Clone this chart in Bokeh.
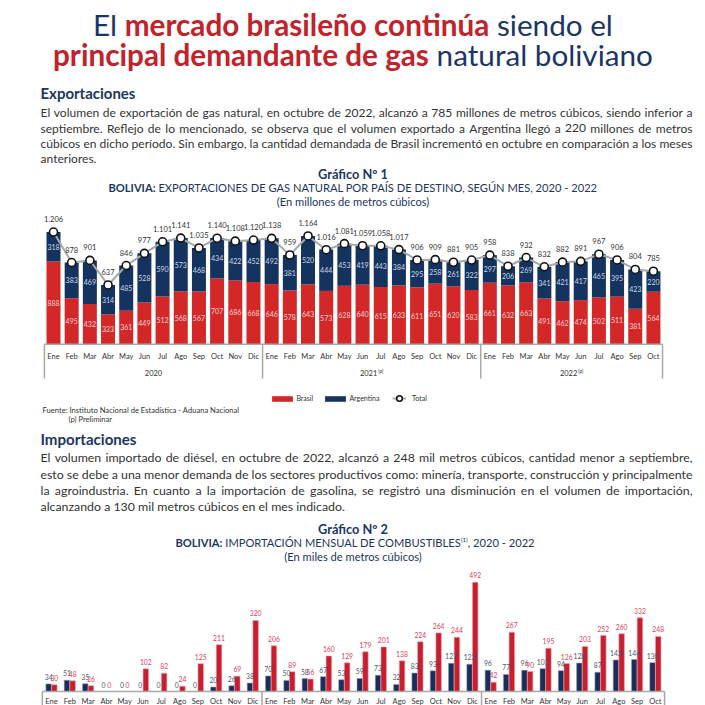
import glob, os
from bokeh.plotting import figure
from bokeh.models import Range1d, ColumnDataSource, Legend, LegendItem
from bokeh.layouts import column
from bokeh.transform import dodge
from bokeh.embed import file_html
from bokeh.resources import INLINE
from bokeh.core.properties import value

# ------------------------------------------------------------------ data
months_full = ["Ene", "Feb", "Mar", "Abr", "May", "Jun", "Jul", "Ago", "Sep", "Oct", "Nov", "Dic"]
months_2022 = ["Ene", "Feb", "Mar", "Abr", "May", "Jun", "Jul", "Ago", "Sep", "Oct"]
month_labels = months_full + months_full + months_2022
years = ["2020", "2021", "2022"]
year_marks = ["", "(p)", "(p)"]
year_counts = [12, 12, 10]

exp_brasil = [888, 495, 432, 323, 361, 449, 512, 568, 567, 707, 686, 668,
              646, 578, 643, 573, 628, 640, 615, 633, 611, 651, 620, 583,
              661, 632, 663, 491, 462, 474, 502, 511, 381, 564]
exp_argentina = [318, 383, 469, 314, 485, 528, 590, 573, 468, 434, 422, 452,
                 492, 381, 520, 444, 453, 419, 443, 384, 295, 258, 261, 322,
                 297, 206, 269, 341, 421, 417, 465, 395, 423, 220]
exp_total = [1206, 878, 901, 637, 846, 977, 1101, 1141, 1035, 1140, 1108, 1120,
             1138, 959, 1164, 1016, 1081, 1059, 1058, 1017, 906, 909, 881, 905,
             958, 838, 932, 832, 882, 891, 967, 906, 804, 785]

imp_gasolina = [34, 51, 35, 0, 0, 0, 0, 0, 0, 20, 26, 38,
                70, 50, 58, 67, 53, 59, 73, 32, 83, 93, 127, 123,
                96, 77, 96, 103, 94, 128, 87, 142, 144, 130]
imp_diesel = [30, 48, 26, 0, 0, 102, 82, 24, 125, 211, 69, 320,
              206, 89, 56, 160, 129, 179, 201, 138, 224, 264, 244, 492,
              42, 267, 90, 195, 126, 203, 252, 260, 332, 248]

title_l1 = [("El", "reg", "navy"), ("mercado brasileño continúa", "bold", "red"), ("siendo el", "reg", "navy")]
title_l2 = [("principal demandante de gas", "bold", "red"), ("natural boliviano", "reg", "navy")]
para1 = ["El volumen de exportación de gas natural, en octubre de 2022, alcanzó a 785 millones de metros cúbicos, siendo inferior a",
         "septiembre. Reflejo de lo mencionado, se observa que el volumen exportado a Argentina llegó a 220 millones de metros",
         "cúbicos en dicho período. Sin embargo, la cantidad demandada de Brasil incrementó en octubre en comparación a los meses",
         "anteriores."]
para2 = ["El volumen importado de diésel, en octubre de 2022, alcanzó a 248 mil metros cúbicos, cantidad menor a septiembre,",
         "esto se debe a una menor demanda de los sectores productivos como: minería, transporte, construcción y principalmente",
         "la agroindustria. En cuanto a la importación de gasolina, se registró una disminución en el volumen de importación,",
         "alcanzando a 130 mil metros cúbicos en el mes indicado."]

# ------------------------------------------------------------------ style
FONT = "Lato"
C = {"navy": "#1c3563", "red": "#c1222b", "text": "#333333"}
RED1, NAVY1 = "#d42828", "#14345f"
RED2, NAVY2 = "#c51f30", "#1c2d5a"
GRID = "#a8a8a8"
W = 705

# ------------------------------------------------------------------ text measuring
try:
    from PIL import ImageFont
except Exception:
    ImageFont = None


def _find(name):
    try:
        for root in ("/usr/share/fonts", "/usr/local/share/fonts",
                     os.path.expanduser("~/.fonts"), os.path.expanduser("~/.local/share/fonts")):
            hits = glob.glob(os.path.join(root, "**", name), recursive=True)
            if hits:
                return sorted(hits)[0]
    except Exception:
        pass
    return None


_files = {"reg": _find("Lato-Regular.ttf"), "bold": _find("Lato-Bold.ttf")}
_cache = {}


def tw(text, style, size):
    f = _files.get(style)
    if ImageFont is not None and f:
        try:
            if f not in _cache:
                _cache[f] = ImageFont.truetype(f, 200)
            return _cache[f].getlength(text) * size / 200.0
        except Exception:
            pass
    return len(text) * size * (0.53 if style == "bold" else 0.49)


def make_fig(h, xr, yr):
    p = figure(width=W, height=h, x_range=xr, y_range=yr, output_backend="svg",
               toolbar_location=None, min_border=0, x_axis_type=None, y_axis_type=None)
    p.outline_line_color = None
    p.background_fill_color = "white"
    p.border_fill_color = "white"
    return p


def txt(p, xs, ys, texts, size, color, bold=False, align="left", baseline="middle"):
    p.text(x=xs, y=ys, text=texts, text_font=value(FONT), text_font_size=f"{size:.2f}px",
           text_font_style="bold" if bold else "normal", text_color=color,
           text_align=align, text_baseline=baseline)


def rich(p, segs, cx, y, size):
    """segs: (text, style, color, rel_size, dy, gap_before)"""
    items, total = [], 0.0
    for t, st, col, rs, dy, gap in segs:
        s = size * rs
        if gap:
            total += tw(" ", "reg", size)
        items.append((total, t, st, col, s, dy))
        total += tw(t, st, s)
    x0 = cx - total / 2
    for off, t, st, col, s, dy in items:
        txt(p, [x0 + off], [y + dy], [t], s, col, bold=(st == "bold"))


def para(p, lines, x0, x1, ys, color):
    Wd = x1 - x0
    nat = [tw(l, "reg", 1) for l in lines[:-1]]
    size = Wd / max(nat)
    for i, (l, y) in enumerate(zip(lines, ys)):
        if i == len(lines) - 1:
            txt(p, [x0], [y], [l], size, color)
            continue
        words = l.split(" ")
        ws = [tw(w, "reg", size) for w in words]
        gap = (Wd - sum(ws)) / (len(words) - 1)
        xs, x = [], x0
        for w in ws:
            xs.append(x)
            x += w + gap
        txt(p, xs, [y] * len(words), words, size, color)


def fit(text, style, width):
    return width / tw(text, style, 1)


CX = 352.5

# ------------------------------------------------------------------ header (fig A)
HA = 210
pA = make_fig(HA, Range1d(0, W), Range1d(HA, 0))
w2 = sum(tw(t, s, 1) for t, s, _ in title_l2) + tw(" ", "reg", 1)
ts = min(34.0, 600 / w2)
rich(pA, [(t, s, C[c], 1, 0, i > 0) for i, (t, s, c) in enumerate(title_l1)], CX, 24, ts)
rich(pA, [(t, s, C[c], 1, 0, i > 0) for i, (t, s, c) in enumerate(title_l2)], CX, 54, ts)

hs = fit("Exportaciones", "bold", 95)
txt(pA, [40], [92], ["Exportaciones"], hs, C["navy"], bold=True)
para(pA, para1, 40, 692, [112, 127.5, 143, 158], C["text"])

gs = fit("Gráfico Nº 1", "bold", 70)
txt(pA, [CX], [173], ["Gráfico Nº 1"], gs, C["navy"], bold=True, align="center")
sub1 = "EXPORTACIONES DE GAS NATURAL POR PAÍS DE DESTINO, SEGÚN MES, 2020 - 2022"
ss = 489 / (tw("BOLIVIA:", "bold", 1) + tw(" ", "reg", 1) + tw(sub1, "reg", 1))
rich(pA, [("BOLIVIA:", "bold", C["navy"], 1, 0, False), (sub1, "reg", C["navy"], 1, 0, True)], CX, 187, ss)
txt(pA, [CX], [201], ["(En millones de metros cúbicos)"], ss, C["navy"], align="center")

# ------------------------------------------------------------------ chart 1 (fig B)
HB, TOPB = 218, 210
SC1, BASE1 = 0.093, 343.7
XS1, X01 = 18.18, 53.0


def yd1(iy):
    return (BASE1 - iy) / SC1


def xd1(ix):
    return (ix - X01) / XS1


xb0 = xd1(0)
pB = make_fig(HB, Range1d(xb0, xb0 + W / XS1), Range1d(yd1(TOPB + HB), yd1(TOPB)))

n = len(exp_total)
idx = list(range(n))
srcB = ColumnDataSource(dict(
    x=idx, brasil=exp_brasil, arg=exp_argentina,
    arg_top=[b + a for b, a in zip(exp_brasil, exp_argentina)],
    bmid=[b / 2 for b in exp_brasil],
    amid=[b + a / 2 for b, a in zip(exp_brasil, exp_argentina)],
    total=exp_total,
    tly=[t + 13 / SC1 for t in exp_total],
    blab=[str(b) for b in exp_brasil],
    alab=[str(a) for a in exp_argentina],
    tlab=[f"{t:,}".replace(",", ".") for t in exp_total],
    month=month_labels,
    my=[yd1(355.5)] * n,
))

r_b = pB.vbar(x="x", bottom=0, top="brasil", width=0.77, fill_color=RED1, line_color=None, source=srcB)
r_a = pB.vbar(x="x", bottom="brasil", top="arg_top", width=0.77, fill_color=NAVY1, line_color=None, source=srcB)
r_l = pB.line(x="x", y="total", line_color=GRID, line_width=2, source=srcB)
r_s = pB.scatter(x="x", y="total", size=8, fill_color="white", line_color="#111111", line_width=1.6, source=srcB)

pB.text(x="x", y="bmid", text="blab", source=srcB, text_font=value(FONT), text_font_size="7px",
        text_color="#f6d2d2", text_align="center", text_baseline="middle")
pB.text(x="x", y="amid", text="alab", source=srcB, text_font=value(FONT), text_font_size="7px",
        text_color="#cdd6e8", text_align="center", text_baseline="middle")
pB.text(x="x", y="tly", text="tlab", source=srcB, text_font=value(FONT), text_font_size="7.5px",
        text_color="#333333", text_align="center", text_baseline="middle")
pB.text(x="x", y="my", text="month", source=srcB, text_font=value(FONT), text_font_size="7.5px",
        text_color="#333333", text_align="center", text_baseline="middle")

# group frame (baseline + separators) and year labels
seps, start = [-0.5], 0
centers = []
for c in year_counts:
    centers.append(start + (c - 1) / 2)
    start += c
    seps.append(start - 0.5)
pB.segment(x0=[-0.5], y0=[0], x1=[n - 0.5], y1=[0], line_color=GRID, line_width=1.5)
pB.segment(x0=seps, y0=[0] * len(seps), x1=seps, y1=[yd1(378)] * len(seps), line_color=GRID, line_width=1.5)
for yr, mk, cx in zip(years, year_marks, centers):
    wm = tw(yr, "reg", 7.5)
    wsup = tw(mk, "reg", 4.8) + 1 if mk else 0
    xs = cx - (wm + wsup) / 2 / XS1
    txt(pB, [xs], [yd1(372)], [yr], 7.5, "#333333")
    if mk:
        txt(pB, [xs + (wm + 1) / XS1], [yd1(370)], [mk], 4.8, "#333333")

leg1 = Legend(items=[LegendItem(label="Brasil", renderers=[r_b]),
                     LegendItem(label="Argentina", renderers=[r_a])],
              orientation="horizontal", location=(269.4, 26), glyph_width=26, glyph_height=7,
              label_height=8, label_width=20, label_standoff=1, spacing=6, padding=0, margin=0,
              border_line_color=None, background_fill_alpha=0, label_text_font=FONT,
              label_text_font_size="7px", label_text_color="#333333")
leg2 = Legend(items=[LegendItem(label="Total", renderers=[r_l, r_s])],
              orientation="horizontal", location=(392, 22), glyph_width=14, glyph_height=16,
              label_height=8, label_width=15, label_standoff=6, spacing=0, padding=0, margin=0,
              border_line_color=None, background_fill_alpha=0, label_text_font=FONT,
              label_text_font_size="7px", label_text_color="#333333")
pB.add_layout(leg1)
pB.add_layout(leg2)

txt(pB, [xd1(42)], [yd1(409)], ["Fuente: Instituto Nacional de Estadística - Aduana Nacional"], 7.6, "#333333")
txt(pB, [xd1(68)], [yd1(418)], ["(p) Preliminar"], 7.6, "#333333")

# ------------------------------------------------------------------ header 2 (fig C)
HC, TOPC = 138, 428
pC = make_fig(HC, Range1d(0, W), Range1d(HC, 0))
hs2 = fit("Importaciones", "bold", 96)
txt(pC, [40], [438 - TOPC], ["Importaciones"], hs2, C["navy"], bold=True)
para(pC, para2, 40, 692, [y - TOPC for y in (457, 473.5, 490, 506)], C["text"])
txt(pC, [CX], [528 - TOPC], ["Gráfico Nº 2"], gs, C["navy"], bold=True, align="center")
rich(pC, [("BOLIVIA:", "bold", C["navy"], 1, 0, False),
          ("IMPORTACIÓN MENSUAL DE COMBUSTIBLES", "reg", C["navy"], 1, 0, True),
          ("(1)", "reg", C["navy"], 0.55, -3.5, False),
          (", 2020 - 2022", "reg", C["navy"], 1, 0, False)], CX + 2, 542 - TOPC, ss)
txt(pC, [CX], [556 - TOPC], ["(En miles de metros cúbicos)"], ss, C["navy"], align="center")

# ------------------------------------------------------------------ chart 2 (fig D)
HD, TOPD = 139, 566
SC2, BASE2 = 0.222, 691.0
XS2, X02 = 18.3, 51.0


def yd2(iy):
    return (BASE2 - iy) / SC2


xd0 = -X02 / XS2
pD = make_fig(HD, Range1d(xd0, xd0 + W / XS2), Range1d(yd2(TOPD + HD), yd2(TOPD)))
srcD = ColumnDataSource(dict(
    x=idx, gas=imp_gasolina, die=imp_diesel,
    gly=[g + 7 / SC2 for g in imp_gasolina], dly=[d + 7 / SC2 for d in imp_diesel],
    glab=[str(g) for g in imp_gasolina], dlab=[str(d) for d in imp_diesel],
    month=month_labels, my=[yd2(700.5)] * n,
))
OFF = 0.155
pD.vbar(x=dodge("x", -OFF), top="gas", bottom=0, width=0.3, fill_color=NAVY2,
        line_color="#8f9ab8", line_width=0.6, source=srcD)
pD.vbar(x=dodge("x", OFF), top="die", bottom=0, width=0.3, fill_color=RED2,
        line_color="#f0a0a8", line_width=0.6, source=srcD)
pD.text(x=dodge("x", -OFF), y="gly", text="glab", source=srcD, text_font=value(FONT),
        text_font_size="6.8px", text_color="#4a5878", text_align="center", text_baseline="middle")
pD.text(x=dodge("x", OFF), y="dly", text="dlab", source=srcD, text_font=value(FONT),
        text_font_size="6.8px", text_color="#e0405a", text_align="center", text_baseline="middle")
pD.text(x="x", y="my", text="month", source=srcD, text_font=value(FONT), text_font_size="7.5px",
        text_color="#333333", text_align="center", text_baseline="middle")
pD.segment(x0=[-0.5], y0=[0], x1=[n - 0.5], y1=[0], line_color=GRID, line_width=1.5)
pD.segment(x0=seps, y0=[0] * len(seps), x1=seps, y1=[yd2(TOPD + HD)] * len(seps),
           line_color=GRID, line_width=1.5)

layout = column(pA, pB, pC, pD, spacing=0)
open("out.html", "w").write(file_html(layout, INLINE))
